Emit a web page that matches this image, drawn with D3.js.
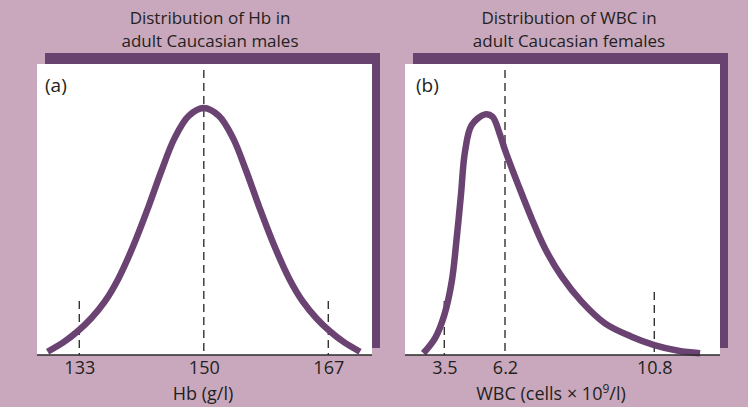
<!DOCTYPE html>
<html>
<head>
<meta charset="utf-8">
<script src="https://cdn.jsdelivr.net/npm/d3@7"></script>
<style>
  html, body { margin: 0; padding: 0; background: #c9a8bd; }
  svg { display: block; }
  text { font-family: "Open Sans", "Noto Sans", sans-serif; fill: #231f20; }
</style>
</head>
<body>
<script>
// ---- Data ----
const titlesA = ["Distribution of Hb in", "adult Caucasian males"];
const titlesB = ["Distribution of WBC in", "adult Caucasian females"];
const panelLabels = ["(a)", "(b)"];
const axisLabelA = "Hb (g/l)";

// Panel (a): Hb (g/l) vs relative frequency
const hbValues = [128.67, 130.96, 132.70, 134.63, 136.47, 138.30, 140.36, 142.43, 144.22, 146.01, 147.94, 150.00,
                  152.06, 153.99, 155.78, 157.57, 159.64, 161.70, 163.53, 165.37, 167.30, 169.04, 171.33];
const hbFreq   = [1.3, 5.4, 9.4, 14.9, 21.6, 30.7, 44.1, 59.9, 74.6, 87.8, 96.8, 100,
                  96.8, 87.8, 74.6, 59.9, 44.1, 30.7, 21.6, 14.9, 9.4, 5.4, 1.3];
const hbTicks = [133, 150, 167];
const hbShortTicks = [133, 167];
const hbMean = 150;

// Panel (b): WBC (cells x 10^9/l) vs relative frequency
const wbcValues = [2.57, 3.09, 3.50, 3.83, 4.05, 4.24, 4.42, 4.72, 5.31, 5.64, 5.98, 6.20,
                   6.61, 7.02, 7.43, 7.95, 8.56, 9.28, 10.10, 10.80, 11.54, 12.21];
const wbcFreq   = [0.7, 6.8, 16.2, 29.7, 47.2, 64.8, 82.3, 93.1, 97.4, 96.5, 89.1, 83.0,
                   68.8, 55.3, 43.2, 31.7, 21.6, 12.8, 7.4, 4.0, 1.7, 0.7];
const wbcTicks = [3.5, 6.2, 10.8];
const wbcTickLabels = ["3.5", "6.2", "10.8"];
const wbcShortTicks = [3.5, 10.8];
const wbcMedian = 6.2;

// ---- Layout ----
const W = 748, H = 407;
const BG = "#c9a8bd", DARK = "#694370", CURVE = "#6a4373";
const svg = d3.select("body").append("svg").attr("width", W).attr("height", H);
svg.append("rect").attr("width", W).attr("height", H).attr("fill", BG);

const yScale = d3.scaleLinear().domain([0, 100]).range([355, 108]);

const panels = [
  { titles: titlesA, label: panelLabels[0], xs: hbValues, ys: hbFreq,
    x: d3.scaleLinear().domain([133, 167]).range([79.3, 328.3]),
    ticks: hbTicks, tickFmt: d => String(d), shortTicks: hbShortTicks, center: hbMean,
    white: [37, 64, 372, 355], dark: [45, 53, 380, 348], titleX: 210, labelX: 45 },
  { titles: titlesB, label: panelLabels[1], xs: wbcValues, ys: wbcFreq,
    x: d3.scaleLinear().domain([3.5, 6.2, 10.8]).range([444.3, 505, 654.3]),
    ticks: wbcTicks, tickFmt: (d, i) => wbcTickLabels[i], shortTicks: wbcShortTicks, center: wbcMedian,
    white: [405, 64, 720, 355], dark: [413, 53, 728, 348], titleX: 569, labelX: 416 }
];

panels.forEach((p, pi) => {
  const g = svg.append("g");
  g.append("rect").attr("x", p.dark[0]).attr("y", p.dark[1])
    .attr("width", p.dark[2] - p.dark[0]).attr("height", p.dark[3] - p.dark[1]).attr("fill", DARK);
  g.append("rect").attr("x", p.white[0]).attr("y", p.white[1])
    .attr("width", p.white[2] - p.white[0]).attr("height", p.white[3] - p.white[1]).attr("fill", "#ffffff");

  p.titles.forEach((t, i) => {
    g.append("text").attr("x", p.titleX).attr("y", 24 + i * 23)
      .attr("text-anchor", "middle").attr("font-size", 17).text(t);
  });

  g.append("text").attr("x", p.labelX).attr("y", 91.5).attr("font-size", 19).text(p.label);

  g.append("line").attr("x1", p.x(p.center)).attr("x2", p.x(p.center))
    .attr("y1", 70).attr("y2", 355)
    .attr("stroke", "#333").attr("stroke-width", 1.4).attr("stroke-dasharray", "8,5");
  g.selectAll(".short").data(p.shortTicks).enter().append("line")
    .attr("x1", d => p.x(d)).attr("x2", d => p.x(d))
    .attr("y1", (d, i) => (pi === 1 && i === 1) ? 292 : 301).attr("y2", 355)
    .attr("stroke", "#333").attr("stroke-width", 1.4).attr("stroke-dasharray", "8,5");

  const pts = p.xs.map((v, i) => [v, p.ys[i]]);
  const line = d3.line().x(d => p.x(d[0])).y(d => yScale(d[1])).curve(d3.curveCatmullRom.alpha(0.5));
  g.append("path").datum(pts).attr("d", line)
    .attr("fill", "none").attr("stroke", CURVE).attr("stroke-width", 6.5);

  g.append("line").attr("x1", p.white[0]).attr("x2", p.white[2])
    .attr("y1", 355).attr("y2", 355).attr("stroke", "#2b2b2b").attr("stroke-width", 1.6);

  const axis = d3.axisBottom(p.x).tickValues(p.ticks).tickSize(0).tickPadding(0)
    .tickFormat(p.tickFmt);
  const ag = g.append("g").attr("transform", "translate(0,374)").call(axis);
  ag.select(".domain").remove();
  ag.selectAll("text").attr("font-size", 18).attr("dy", 0)
    .style("font-family", "'Open Sans', 'Noto Sans', sans-serif").attr("fill", "#231f20");
});

svg.append("text").attr("x", 203).attr("y", 399.5).attr("text-anchor", "middle")
  .attr("font-size", 18).text(axisLabelA);
const tb = svg.append("text").attr("x", 551).attr("y", 399.5).attr("text-anchor", "middle")
  .attr("font-size", 18);
tb.append("tspan").text("WBC (cells \u00d7 10");
tb.append("tspan").attr("dy", -7).attr("font-size", 12).text("9");
tb.append("tspan").attr("dy", 7).text("/l)");
</script>
</body>
</html>
